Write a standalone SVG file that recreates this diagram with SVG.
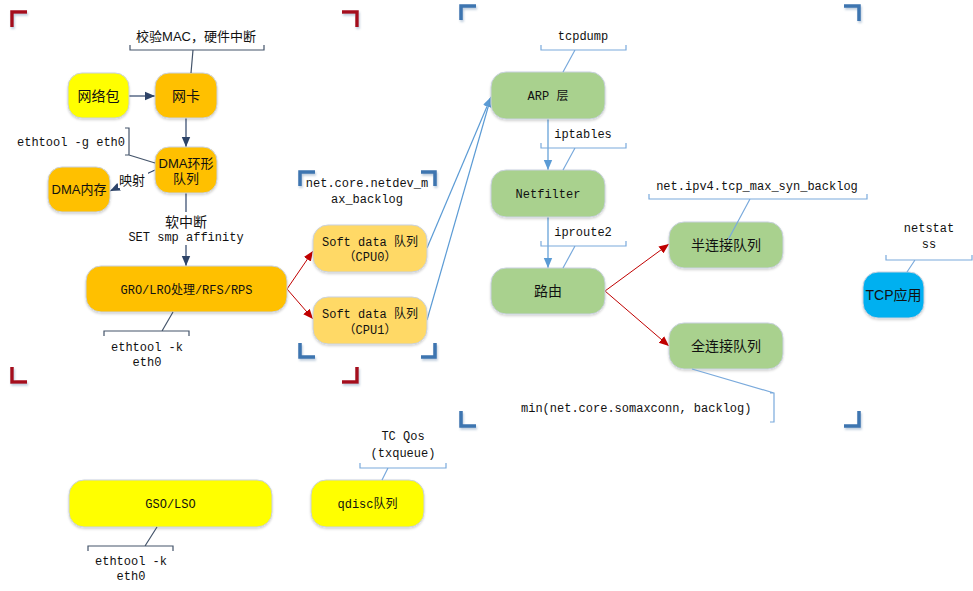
<svg xmlns="http://www.w3.org/2000/svg" width="973" height="591" viewBox="0 0 973 591">
<style>
.node rect{stroke:#c9d1de;stroke-width:1;filter:url(#sh)}
.yel{fill:#ffff00}.org{fill:#ffc000}.lor{fill:#ffd966}.grn{fill:#a9d18e}.cyan{fill:#00b0f0}
.mono{font-family:"Liberation Mono","Noto Sans CJK SC",monospace;font-size:12px;fill:#111}
.sans{font-family:"Liberation Sans","Noto Sans CJK SC",sans-serif;font-size:14px;fill:#111}
.cjk{font-family:"Noto Sans CJK SC",sans-serif;font-size:13px;fill:#111}
text{text-anchor:middle}
.navy{stroke:#2e4468;stroke-width:1.2;fill:none}
.red{stroke:#c00000;stroke-width:1;fill:none}
.blue{stroke:#5b9bd5;stroke-width:1.2;fill:none}
.cd{stroke:#44546a;stroke-width:1.2;fill:none}
.cb{stroke:#7aaadc;stroke-width:1.2;fill:none}
.cr{stroke:#a50d1a;stroke-width:3.5;fill:none;filter:url(#sh2)}
.cbl{stroke:#3d74b0;stroke-width:3.5;fill:none;filter:url(#sh2)}
</style>
<defs>
<filter id="sh" x="-20%" y="-20%" width="140%" height="150%"><feDropShadow dx="0" dy="1.5" stdDeviation="1.2" flood-color="#000" flood-opacity="0.18"/></filter>
<filter id="sh2" x="-50%" y="-50%" width="200%" height="200%"><feDropShadow dx="1" dy="2" stdDeviation="1" flood-color="#6f8fb3" flood-opacity="0.45"/></filter>
<marker id="an" markerUnits="userSpaceOnUse" markerWidth="10" markerHeight="10" viewBox="0 0 10 10" refX="10" refY="5" orient="auto"><path d="M0,0.8 L10,5 L0,9.2 z" fill="#2e4468"/></marker>
<marker id="ar" markerUnits="userSpaceOnUse" markerWidth="10" markerHeight="10" viewBox="0 0 10 10" refX="10" refY="5" orient="auto"><path d="M0,0.8 L10,5 L0,9.2 z" fill="#c00000"/></marker>
<marker id="ab" markerUnits="userSpaceOnUse" markerWidth="10" markerHeight="10" viewBox="0 0 10 10" refX="10" refY="5" orient="auto"><path d="M0,0.8 L10,5 L0,9.2 z" fill="#5b9bd5"/></marker>
</defs>
<rect width="973" height="591" fill="#fff"/>

<g id="corners">
<path class="cr" d="M12,27 V12 H27"/>
<path class="cr" d="M342,12 H357 V27"/>
<path class="cr" d="M12,367 V382 H27"/>
<path class="cr" d="M342,382 H357 V367"/>
<path class="cbl" d="M461,20 V6 H476"/>
<path class="cbl" d="M844,6 H859 V21"/>
<path class="cbl" d="M461,411 V426 H476"/>
<path class="cbl" d="M844,426 H859 V411"/>
<path class="cbl" d="M300,186 V172 H315"/>
<path class="cbl" d="M421,172 H435 V186"/>
<path class="cbl" d="M300,343 V357 H315"/>
<path class="cbl" d="M421,357 H435 V343"/>
</g>

<g id="connectors">
<path class="navy" d="M129,96 L155,96" marker-end="url(#an)"/>
<path class="navy" d="M186,118 L186,147" marker-end="url(#an)"/>
<path class="navy" d="M155,170 L110,191" marker-end="url(#an)"/>
<path class="navy" d="M186,193 L186,266" marker-end="url(#an)"/>
<path class="red" d="M287,289 L313,251" marker-end="url(#ar)"/>
<path class="red" d="M287,289 L313,319" marker-end="url(#ar)"/>
<path class="blue" d="M427,248 L491,97" marker-end="url(#ab)"/>
<path class="blue" d="M427,320 L491,97" marker-end="url(#ab)"/>
<path class="blue" d="M548,119 L548,170" marker-end="url(#ab)"/>
<path class="blue" d="M548,217 L548,268" marker-end="url(#ab)"/>
<path class="red" d="M605,291 L669,244" marker-end="url(#ar)"/>
<path class="red" d="M605,291 L669,346" marker-end="url(#ar)"/>
<rect x="118" y="172" width="30" height="16" fill="#fff"/>
<text class="cjk" x="132" y="185">映射</text>
<rect x="126" y="212" width="122" height="33" fill="#fff"/>
<text class="sans" x="186" y="227">软中断</text>
<text class="mono" x="186" y="241">SET smp affinity</text>
</g>

<g id="n-packet" class="node"><rect class="yel" x="68" y="73" width="61" height="45" rx="14"/><text class="sans" x="98.5" y="100.5">网络包</text></g>
<g id="n-nic" class="node"><rect class="org" x="155" y="73" width="62" height="45" rx="14"/><text class="sans" x="186" y="100.5">网卡</text></g>
<g id="n-dmaring" class="node"><rect class="org" x="155" y="147" width="62" height="46" rx="14"/><text class="sans" x="186" y="167.5" style="font-size:13px">DMA环形</text><text class="sans" x="186" y="182.5" style="font-size:13px">队列</text></g>
<g id="n-dmamem" class="node"><rect class="org" x="48" y="167" width="62" height="45" rx="14"/><text class="sans" x="79" y="194" style="font-size:13px">DMA内存</text></g>
<g id="n-gro" class="node"><rect class="org" x="86" y="266" width="201" height="46" rx="15"/><text class="mono" x="186.5" y="293.5">GRO/LRO处理/RFS/RPS</text></g>
<g id="n-cpu0" class="node"><rect class="lor" x="313" y="225" width="114" height="47" rx="15"/><text class="mono" x="370" y="245.5">Soft data 队列</text><text class="mono" x="370" y="260.5">（CPU0）</text></g>
<g id="n-cpu1" class="node"><rect class="lor" x="313" y="297" width="114" height="47" rx="15"/><text class="mono" x="370" y="317.5">Soft data 队列</text><text class="mono" x="370" y="333.5">（CPU1）</text></g>
<g id="n-arp" class="node"><rect class="grn" x="491" y="72" width="114" height="47" rx="15"/><text class="mono" x="548" y="100">ARP 层</text></g>
<g id="n-netfilter" class="node"><rect class="grn" x="491" y="170" width="114" height="47" rx="15"/><text class="mono" x="548" y="198">Netfilter</text></g>
<g id="n-route" class="node"><rect class="grn" x="491" y="268" width="114" height="46" rx="15"/><text class="sans" x="548" y="296">路由</text></g>
<g id="n-syn" class="node"><rect class="grn" x="669" y="222" width="114" height="46" rx="15"/><text class="sans" x="726" y="250">半连接队列</text></g>
<g id="n-accept" class="node"><rect class="grn" x="669" y="323" width="114" height="46" rx="15"/><text class="sans" x="726" y="351">全连接队列</text></g>
<g id="n-tcpapp" class="node"><rect class="cyan" x="863" y="272" width="61" height="46" rx="15"/><text class="sans" x="893.5" y="300">TCP应用</text></g>
<g id="n-gso" class="node"><rect class="yel" x="69" y="480" width="203" height="47" rx="15"/><text class="mono" x="170.5" y="508">GSO/LSO</text></g>
<g id="n-qdisc" class="node"><rect class="yel" x="311" y="480" width="113" height="47" rx="15"/><text class="mono" x="367.5" y="508">qdisc队列</text></g>

<g id="callouts">
<text class="sans" x="196" y="41" style="font-size:13px">校验MAC，硬件中断</text>
<path class="cd" d="M130,45 V50 H264 V45 M193,50 L191,73"/>
<text class="mono" x="17" y="146" style="text-anchor:start">ethtool -g eth0</text>
<path class="cd" d="M125,128 H129 V155 H125 M129,155 L155,163"/>
<text class="mono" x="147" y="351">ethtool -k</text>
<text class="mono" x="147" y="366">eth0</text>
<path class="cd" d="M104,336 V331 H189 V336 M162,331 L173,312"/>
<text class="mono" x="367" y="187">net.core.netdev_m</text>
<text class="mono" x="367" y="203">ax_backlog</text>
<text class="mono" x="583" y="40">tcpdump</text>
<path class="cb" d="M541,45 V50 H626 V45 M575,50 L563,72"/>
<text class="mono" x="583" y="138">iptables</text>
<path class="cb" d="M541,143 V148 H626 V143 M575,148 L563,170"/>
<text class="mono" x="583" y="236">iproute2</text>
<path class="cb" d="M541,241 V246 H626 V241 M575,246 L563,268"/>
<text class="mono" x="757" y="190">net.ipv4.tcp_max_syn_backlog</text>
<path class="cb" d="M649,194 V199 H867 V194 M750,199 L728,240"/>
<text class="mono" x="929" y="232">netstat</text>
<text class="mono" x="929" y="248">ss</text>
<path class="cb" d="M886,255 V260 H972 V255 M915,260 L907,272"/>
<text class="mono" x="521" y="412" style="text-anchor:start">min(net.core.somaxconn, backlog)</text>
<path class="cb" d="M770,393 H774 V422 H770 M774,393 L692,369"/>
<text class="mono" x="403" y="440">TC Qos</text>
<text class="mono" x="403" y="457">(txqueue)</text>
<path class="cb" d="M360,463 V468 H446 V463 M388,468 L382,480"/>
<text class="mono" x="131" y="565">ethtool -k</text>
<text class="mono" x="131" y="580">eth0</text>
<path class="cd" d="M88,551 V546 H173 V551 M145,546 L157,527"/>
</g>
</svg>
